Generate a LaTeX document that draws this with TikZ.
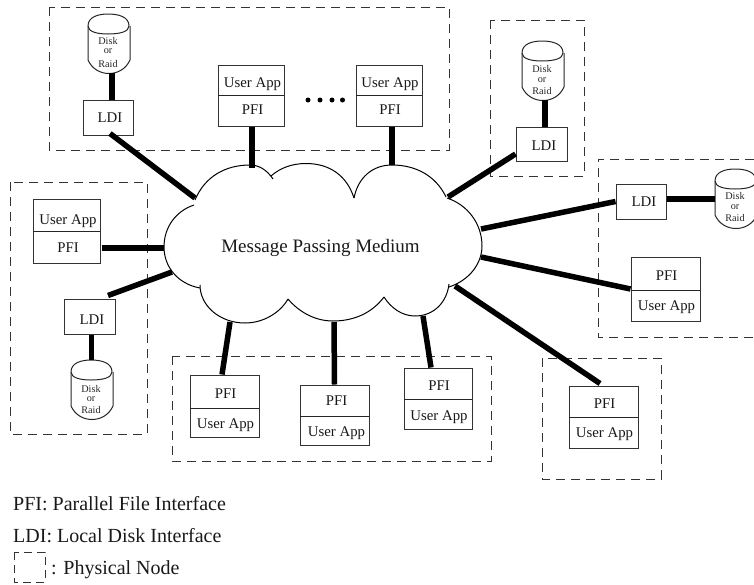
\documentclass[tikz,border=0pt]{standalone}
\usepackage{fontspec}
\setmainfont{Liberation Serif}
\tikzset{
  px/.style={x=1pt,y=-1pt},
  phys/.style={draw=black!80,line width=1pt,dash pattern=on 9pt off 6pt},
  thick link/.style={draw=black,line width=5.5pt},
  box/.style={draw=black!80,line width=1pt,fill=white,inner sep=0pt},
  lbl/.style={font=\fontsize{14.8}{16}\selectfont,inner sep=0pt,text=black!90,anchor=base},
  disktxt/.style={font=\fontsize{10.2}{11}\selectfont,inner sep=0pt,text=black!85},
  legend/.style={font=\fontsize{20}{22}\selectfont,inner sep=0pt,anchor=base west,text=black!90},
  diskline/.style={draw=black!85,line width=1pt},
  dot/.style={circle,fill=black,inner sep=0pt,minimum size=5pt},
  cloudline/.style={draw=black,line width=1pt},
}
% #1 name, #2 x, #3 y (top of disk), #4 Disk y, #5 or y, #6 Raid y
\newcommand{\diskshape}[6]{%
  \coordinate (#1) at (#2+20.5,#3+59);
  \coordinate (#1n) at (#2+20.5,#3);
  \coordinate (#1w) at (#2,#3+30);
  \draw[diskline] (#2,#3+12) ..controls (#2,#3+3) and (#2+10,#3) .. (#2+20,#3)
     ..controls (#2+31,#3) and (#2+41,#3+3) .. (#2+41,#3+12)
     ..controls (#2+41,#3+18) and (#2+31,#3+20) .. (#2+20,#3+20)
     ..controls (#2+10,#3+20) and (#2,#3+18) .. (#2,#3+12);
  \draw[diskline] (#2,#3+12) -- (#2,#3+46) ..controls (#2+8,#3+64) and (#2+34,#3+64) .. (#2+42,#3+46) -- (#2+42,#3+12);
  \node[disktxt] (#1d) at (#2+20,#4) {Disk};
  \node[disktxt] (#1o) at (#2+20,#5) {or};
  \node[disktxt] (#1r) at (#2+20,#6) {Raid};
}
% #1 name, #2 x0, #3 y0, #4 x1, #5 y1, #6 divider y, #7 top baseline, #8 bottom baseline, #9 text centre x
\newcommand{\myframe}[6]{%
  \node[box,minimum width=#4pt-#2pt,minimum height=#5pt-#3pt] (#1) at ({(#2+#4)/2},{(#3+#5)/2}) {};
  \draw[line width=1pt,draw=black!85] (#2,#6) -- (#4,#6);
}
\newcommand{\appbox}[9]{%
  \myframe{#1}{#2}{#3}{#4}{#5}{#6}
  \node[lbl] (#1t) at (#9,#7) {User App};
  \node[lbl] (#1b) at (#9,#8) {PFI};
}
\newcommand{\pfibox}[9]{%
  \myframe{#1}{#2}{#3}{#4}{#5}{#6}
  \node[lbl] (#1t) at (#9,#7) {PFI};
  \node[lbl] (#1b) at (#9,#8) {User App};
}
% #1 name, #2 centre x, #3 centre y, #4 w, #5 h, #6 text x, #7 baseline
\newcommand{\ldibox}[7]{%
  \node[box,minimum width=#4pt,minimum height=#5pt] (#1) at (#2,#3) {};
  \node[lbl] (#1t) at (#6,#7) {LDI};
}
\begin{document}
\begin{tikzpicture}[px]
\useasboundingbox (0,0) rectangle (754,584);
% physical nodes
\draw[phys] (49,7) rectangle (449,150);
\draw[phys] (490,20) rectangle (584,176);
\draw[phys] (754,159) -- (598,159) -- (598,337) -- (754,337);
\draw[phys] (10,182) rectangle (147,434);
\draw[phys] (172,356) rectangle (491,461);
\draw[phys] (542,358) rectangle (661,479);
% boxes and disks
\diskshape{d1}{88}{14}{41}{51}{64}
\diskshape{d2}{522}{41}{69}{80}{91}
\diskshape{d3}{715}{169}{196}{207}{218}
\diskshape{d4}{71}{360}{389}{399.5}{410}
\ldibox{l1}{108}{117.5}{50}{35}{110}{122}
\ldibox{l2}{541.5}{144}{51}{34}{544}{150.5}
\ldibox{l3}{641}{201.5}{50}{35}{644}{206}
\ldibox{l4}{89.5}{316.5}{51}{35}{92}{324}
\appbox{u1}{218}{65}{284}{126}{95}{87}{114}{252.5}
\appbox{u2}{356}{65}{422}{126}{95}{87}{114}{390}
\appbox{u3}{33}{199}{100}{263}{231}{224}{252}{68}
\pfibox{p1}{631}{257}{700}{321}{290}{280}{310}{666.5}
\pfibox{p2}{569}{386}{638}{448}{417}{408}{437}{604.5}
\pfibox{p3}{190}{375}{259}{437}{408}{398}{428}{225.5}
\pfibox{p4}{300}{385}{369}{445}{416}{405}{436}{336.5}
\pfibox{p5}{404}{368}{472}{429}{399}{390}{420}{439}
\node[dot] (e1) at (308,100) {};
\node[dot] (e2) at (320,100) {};
\node[dot] (e3) at (332,100) {};
\node[dot] (e4) at (342.5,100) {};
% cloud
\coordinate (cA) at (195,200);
\coordinate (cB) at (273,179);
\coordinate (cC) at (354,198);
\coordinate (cD) at (446,197);
\coordinate (cE) at (449,284);
\coordinate (cF) at (384,297);
\coordinate (cG) at (288,299);
\coordinate (cH) at (200,285);
\draw[cloudline] (cA) ..controls (205,176) and (226,165) .. (250,165) ..controls (259,165) and (267,170) .. (cB);
\draw[cloudline] (271,176) ..controls (280,168) and (292,163.5) .. (306,163.5) ..controls (330,163.5) and (347,176) .. (cC);
\draw[cloudline] (cC) ..controls (358,178) and (372,165) .. (392,165) ..controls (416,165) and (436,176) .. (cD);
\draw[cloudline] (447,198) ..controls (468,205) and (482,224) .. (482,246) ..controls (482,263) and (470,280) .. (449,287);
\draw[cloudline] (cE) ..controls (447,302) and (434,316) .. (415,316) ..controls (402,316) and (391,308) .. (cF);
\draw[cloudline] (cF) ..controls (372,313) and (354,321) .. (333,321) ..controls (315,321) and (299,312) .. (cG);
\draw[cloudline] (cG) ..controls (280,313) and (263,323) .. (245,323) ..controls (220,323) and (200,306) .. (cH);
\draw[cloudline] (200,288) ..controls (178,284) and (164,267) .. (164,247) ..controls (164,227) and (176,211) .. (194,205);
\node[font=\fontsize{19}{22}\selectfont,inner sep=0pt,text=black!90,anchor=base] (cloud) at (320.5,252.5) {Message Passing Medium};
% cloud ports
\coordinate (c1) at (195,198);
\coordinate (c2) at (252,168);
\coordinate (c3) at (392,165);
\coordinate (c4) at (448,197);
\coordinate (c5) at (481,229);
\coordinate (c6) at (481,257);
\coordinate (c7) at (455,286);
\coordinate (c8) at (164,248);
\coordinate (c9) at (172,272);
\coordinate (c10) at (230,322);
\coordinate (c11) at (334,322);
\coordinate (c12) at (423,316);
% links
\begin{scope}[thick link]
\draw ([xshift=3.5pt]d1) -- ([xshift=3.5pt]l1.north -| d1);
\draw ([shift={(2pt,2pt)}]l1.south) -- (c1);
\draw ([xshift=1pt]u1.south) -- (c2);
\draw ([xshift=3pt]u2.south) -- (c3);
\draw ([xshift=2.5pt]d2) -- ([xshift=2.5pt]l2.north -| d2);
\draw ([yshift=-10pt]l2.west) -- (c4);
\draw (l3.west) -- (c5);
\draw (d3w -| l3.east) -- (d3w);
\draw (p1.west) -- (c6);
\draw ([shift={(-3.5pt,2pt)}]p2.north) -- (c7);
\draw ([shift={(1pt,-17pt)}]u3.east) -- (c8);
\draw ([shift={(18.5pt,3pt)}]l4.north) -- (c9);
\draw (l4.south -| d4n) -- (d4n);
\draw ([xshift=-2.5pt]p3.north) -- (c10);
\draw (p4.north) -- (c11);
\draw ([xshift=-7pt]p5.north) -- (c12);
\end{scope}
% legend
\node[legend] (lg1) at (13,510) {PFI: Parallel File Interface};
\node[legend] (lg2) at (13,542) {LDI: Local Disk Interface};
\node[legend] (lg3) at (51,574) {: Physical Node};
\draw[phys,dash pattern=on 8pt off 5pt] (14,552) rectangle (45,582);
\end{tikzpicture}
\end{document}
